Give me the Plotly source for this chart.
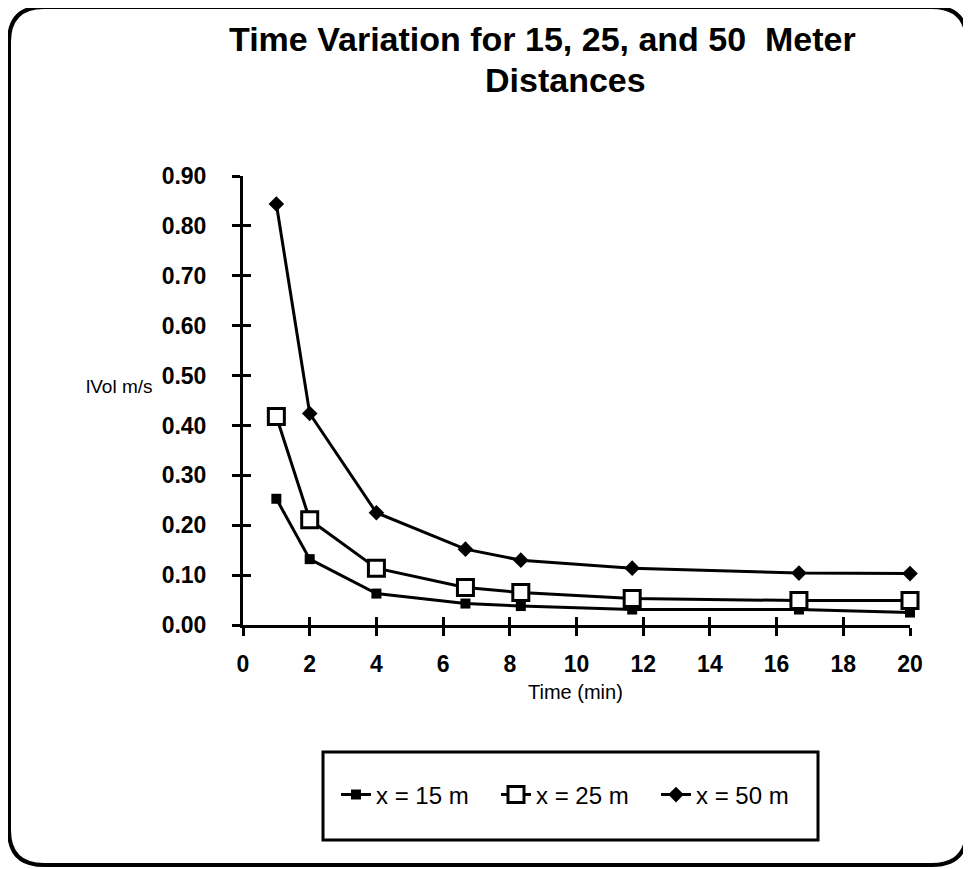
import plotly.graph_objects as go

time_min = [1, 2, 4, 6.67, 8.33, 11.67, 16.67, 20]
vol_15m = [0.253, 0.132, 0.063, 0.043, 0.038, 0.031, 0.031, 0.025]
vol_25m = [0.418, 0.211, 0.114, 0.075, 0.065, 0.053, 0.049, 0.049]
vol_50m = [0.844, 0.424, 0.225, 0.152, 0.130, 0.114, 0.104, 0.103]
series_names = ["x = 15 m", "x = 25 m", "x = 50 m"]
x_ticks = list(range(0, 21, 2))
y_ticks = [round(i * 0.1, 2) for i in range(10)]

# page body has an 8px margin; figure coordinates below are in window pixels
OFF = 8
W, H = 971 - OFF, 869 - OFF
L, R, T, B = 243, 910, 176, 625
pw, ph = R - L, B - T

def px(x):
    return (x - L) / pw

def py(y):
    return (B - y) / ph

FONT = "Liberation Sans, Arial, Helvetica, sans-serif"

fig = go.Figure()
fig.add_trace(go.Scatter(x=time_min, y=vol_15m, name=series_names[0], mode="lines+markers",
                         line=dict(color="black", width=3),
                         marker=dict(symbol="square", size=10, color="black"),
                         cliponaxis=False))
fig.add_trace(go.Scatter(x=time_min, y=vol_25m, name=series_names[1], mode="lines+markers",
                         line=dict(color="black", width=3),
                         marker=dict(symbol="square", size=16, color="white",
                                     line=dict(color="black", width=3)),
                         cliponaxis=False))
fig.add_trace(go.Scatter(x=time_min, y=vol_50m, name=series_names[2], mode="lines+markers",
                         line=dict(color="black", width=3),
                         marker=dict(symbol="diamond", size=12, color="black"),
                         cliponaxis=False))

# overlay axes for inward half of crossing ticks
fig.add_trace(go.Scatter(x=[None], y=[None], xaxis="x2", yaxis="y2", showlegend=False, hoverinfo="skip"))

axis_common = dict(showgrid=False, zeroline=False, showline=True, linecolor="black", linewidth=3,
                   tickcolor="black", tickwidth=3, ticklen=8)

tick_font = dict(family=FONT, size=23, color="black", weight="bold")

fig.update_layout(
    width=W, height=H,
    margin=dict(l=L - OFF, r=W - (R - OFF), t=T - OFF, b=H - (B - OFF)),
    paper_bgcolor="white", plot_bgcolor="white",
    showlegend=True,
    xaxis=dict(range=[0, 20], tickvals=x_ticks, ticks="outside", tickfont=tick_font,
               ticklabelstandoff=8, **axis_common),
    yaxis=dict(range=[0, 0.9], tickvals=y_ticks, tickformat=".2f", ticks="outside",
               tickfont=tick_font, ticklabelstandoff=21, **axis_common),
    xaxis2=dict(range=[0, 20], tickvals=x_ticks, ticks="inside", showticklabels=False,
                overlaying="x", **axis_common),
    yaxis2=dict(range=[0, 0.9], tickvals=y_ticks, ticks="inside", showticklabels=False,
                overlaying="y", **axis_common),
    legend=dict(orientation="h", x=px(336), y=py(795), xanchor="left", yanchor="middle",
                font=dict(family=FONT, size=24, color="black"),
                bgcolor="rgba(0,0,0,0)", itemwidth=30, entrywidth=115, entrywidthmode="pixels"),
    font=dict(family=FONT, color="black"),
)

# outer rounded border
x0, x1, y0, y1, r = 9, 967, 7, 865, 35
path = (f"M {px(x0+r)},{py(y0)} L {px(x1-r)},{py(y0)} "
        f"Q {px(x1)},{py(y0)} {px(x1)},{py(y0+r)} "
        f"L {px(x1)},{py(y1-r)} Q {px(x1)},{py(y1)} {px(x1-r)},{py(y1)} "
        f"L {px(x0+r)},{py(y1)} Q {px(x0)},{py(y1)} {px(x0)},{py(y1-r)} "
        f"L {px(x0)},{py(y0+r)} Q {px(x0)},{py(y0)} {px(x0+r)},{py(y0)} Z")
fig.add_shape(type="path", path=path, xref="paper", yref="paper",
              line=dict(color="black", width=4), layer="below")

# legend box
fig.add_shape(type="rect", xref="paper", yref="paper",
              x0=px(323), x1=px(818), y0=py(840), y1=py(752),
              line=dict(color="black", width=3))

fig.add_annotation(text="<b>Time Variation for 15, 25, and 50  Meter</b>", xref="paper", yref="paper",
                   x=px(542), y=py(39), xanchor="center", yanchor="middle", showarrow=False,
                   font=dict(family=FONT, size=34, color="black"))
fig.add_annotation(text="<b>Distances</b>", xref="paper", yref="paper",
                   x=px(565), y=py(80), xanchor="center", yanchor="middle", showarrow=False,
                   font=dict(family=FONT, size=34, color="black"))
fig.add_annotation(text="lVol m/s", xref="paper", yref="paper",
                   x=px(84), y=py(386), xanchor="left", yanchor="middle", showarrow=False,
                   font=dict(family=FONT, size=19, color="black"))
fig.add_annotation(text="Time (min)", xref="paper", yref="paper",
                   x=px(575), y=py(692), xanchor="center", yanchor="middle", showarrow=False,
                   font=dict(family=FONT, size=20, color="black"))

fig.write_html("out.html")
